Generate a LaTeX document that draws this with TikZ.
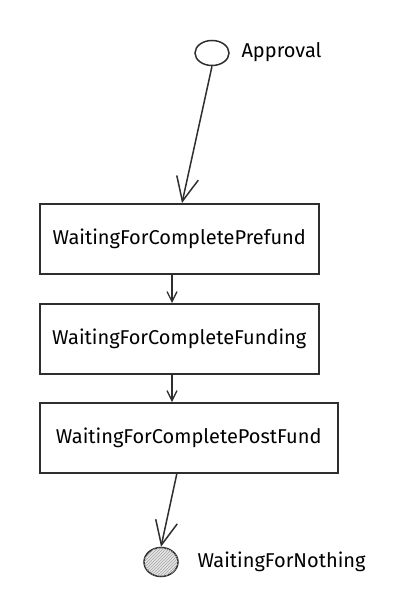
\documentclass[tikz,border=0pt]{standalone}
\usepackage{fontspec}
\setmainfont{Fira Sans}
\usetikzlibrary{arrows.meta,patterns,shapes.geometric}
\definecolor{ink}{HTML}{2E2E2E}
\tikzset{
  state/.style={draw=ink, line width=1.5pt, minimum height=70pt, inner sep=0pt, anchor=north west, font=\fontsize{20}{24}\selectfont, text=black},
  conn/.style={draw=ink, line width=1.5pt},
  bigtip/.style={-{Straight Barb[length=24pt, width=22pt, line width=1.5pt]}},
  smalltip/.style={-{Straight Barb[length=10pt, width=10pt, line width=1.3pt]}},
  lbl/.style={font=\fontsize{20}{24}\selectfont, text=black, anchor=west},
}
\begin{document}
\begin{tikzpicture}[x=1pt, y=-1pt]
\useasboundingbox (0,0) rectangle (406,613);
% start
\node[draw=ink, line width=1.5pt, ellipse, minimum width=34pt, minimum height=25pt, inner sep=0pt] (start) at (212,53) {};
\node[lbl] (startlbl) at (238,52) {Approval};
% boxes
\node[state, minimum width=279pt] (b1) at (39,203) {WaitingForCompletePrefund};
\node[state, minimum width=279pt] (b2) at (39,303) {WaitingForCompleteFunding};
\node[state, minimum width=298pt] (b3) at (39,402) {WaitingForCompletePostFund};
% end
\node[draw=ink, line width=1.5pt, ellipse, minimum width=34pt, minimum height=29pt, inner sep=0pt,
      fill=gray!20, postaction={pattern=north east lines, pattern color=gray!70}] (end) at (161,562) {};
\node[lbl] (endlbl) at (194,562) {WaitingForNothing};
% connectors
\coordinate (b1in) at (182,203);
\coordinate (b2in) at (172,303);
\coordinate (b3in) at (172,402);
\coordinate (b1out) at (172,273);
\coordinate (b2out) at (172,373);
\coordinate (b3out) at (177,473);
\draw[conn, bigtip] (start.south) -- (b1in);
\draw[conn, smalltip] (b1out) -- (b2in);
\draw[conn, smalltip] (b2out) -- (b3in);
\draw[conn, bigtip] (b3out) -- (end.north);
\end{tikzpicture}
\end{document}
